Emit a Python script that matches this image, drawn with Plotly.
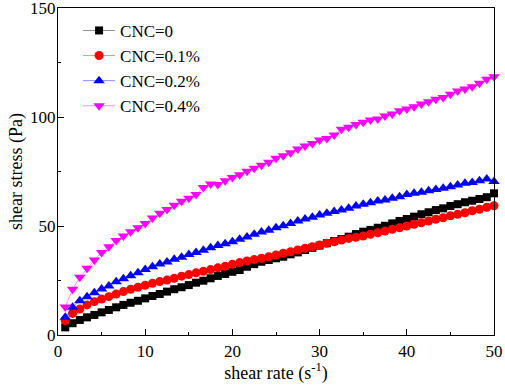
import plotly.graph_objects as go

shear_rate = [0.83, 1.67, 2.5, 3.33, 4.17, 5.0, 5.83, 6.67, 7.5, 8.33,
              9.17, 10.0, 10.83, 11.67, 12.5, 13.33, 14.17, 15.0, 15.83, 16.67,
              17.5, 18.33, 19.17, 20.0, 20.83, 21.67, 22.5, 23.33, 24.17, 25.0,
              25.83, 26.67, 27.5, 28.33, 29.17, 30.0, 30.83, 31.67, 32.5, 33.33,
              34.17, 35.0, 35.83, 36.67, 37.5, 38.33, 39.17, 40.0, 40.83, 41.67,
              42.5, 43.33, 44.17, 45.0, 45.83, 46.67, 47.5, 48.33, 49.17, 50.0]

cnc_0 = [3.5, 5.4, 6.9, 8.1, 9.2, 10.4, 11.5, 12.7, 13.8, 14.8,
         15.7, 16.8, 17.9, 18.8, 19.9, 21.0, 21.9, 22.9, 24.0, 24.9,
         26.0, 27.1, 28.0, 29.0, 29.8, 31.3, 32.5, 33.6, 34.4, 35.2,
         35.9, 37.0, 37.9, 39.0, 40.0, 41.0, 42.1, 43.1, 44.0, 45.1,
         46.3, 47.4, 48.2, 49.2, 50.1, 51.2, 52.3, 53.2, 54.3, 55.4,
         56.3, 57.3, 58.1, 59.2, 60.0, 60.9, 61.6, 62.4, 63.2, 65.0]

cnc_01 = [6.6, 9.9, 11.9, 13.8, 15.3, 16.5, 17.6, 18.8, 19.9, 21.0,
          21.9, 22.8, 23.7, 24.5, 25.2, 26.0, 27.0, 27.7, 28.5, 29.2,
          30.0, 30.8, 31.5, 32.5, 33.2, 34.0, 34.6, 35.2, 35.9, 36.7,
          37.5, 38.2, 39.0, 39.8, 40.5, 41.3, 42.1, 42.8, 43.6, 44.3,
          44.8, 45.4, 46.2, 46.9, 47.7, 48.5, 49.2, 50.0, 50.8, 51.5,
          52.3, 53.1, 53.8, 54.7, 55.4, 56.1, 57.0, 57.7, 58.6, 59.3]

cnc_02 = [8.1, 12.7, 15.7, 17.6, 19.4, 21.1, 22.5, 24.4, 25.8, 27.2,
          28.5, 30.0, 31.3, 32.6, 33.5, 34.7, 35.7, 36.9, 37.8, 38.9,
          40.0, 41.0, 41.9, 42.8, 43.9, 45.0, 46.2, 47.2, 48.0, 49.2,
          50.1, 51.2, 52.3, 53.2, 54.0, 55.0, 55.8, 56.6, 57.3, 58.1,
          59.2, 60.0, 60.7, 61.5, 61.9, 62.7, 63.4, 64.4, 65.0, 65.5,
          66.2, 66.8, 67.3, 68.0, 68.8, 69.6, 70.0, 70.8, 71.6, 70.4]

cnc_04 = [12.8, 21.0, 26.5, 30.6, 34.4, 37.9, 40.5, 43.3, 45.4, 47.4,
          49.2, 51.2, 53.7, 55.8, 57.6, 59.5, 61.3, 62.7, 64.4, 67.7,
          69.3, 69.0, 70.8, 72.3, 73.5, 75.1, 76.5, 77.9, 79.3, 81.1,
          82.2, 83.6, 85.3, 86.7, 87.9, 89.4, 90.1, 91.7, 94.4, 95.3,
          96.6, 97.6, 98.6, 99.1, 100.5, 101.4, 102.9, 103.7, 104.7, 106.0,
          107.0, 108.1, 109.0, 110.4, 111.9, 112.8, 113.9, 115.5, 117.3, 118.5]

series_names = ["CNC=0", "CNC=0.1%", "CNC=0.2%", "CNC=0.4%"]
series_values = [cnc_0, cnc_01, cnc_02, cnc_04]
colors = ["#000000", "#FF0000", "#0000FF", "#FF00FF"]
line_colors = ["rgba(0,0,0,0.45)", "rgba(255,0,0,0.45)", "rgba(0,0,255,0.45)", "rgba(255,0,255,0.45)"]
symbols = ["square", "circle", "triangle-up", "triangle-down"]
sizes = [8, 9, 10, 10]

x_ticks = [0, 10, 20, 30, 40, 50]
y_ticks = [0, 50, 100, 150]

FONT = "Liberation Serif, Times New Roman, serif"

fig = go.Figure()
for name, vals, c, lc, s, sz in zip(series_names, series_values, colors, line_colors, symbols, sizes):
    fig.add_trace(go.Scatter(
        x=shear_rate, y=vals, name=name, mode="lines+markers",
        line=dict(color=lc, width=1),
        marker=dict(symbol=s, color=c, size=sz, line=dict(width=0)),
        cliponaxis=False,
    ))

axis_common = dict(
    showline=True, linecolor="#000000", linewidth=1.2, mirror=True,
    showgrid=False, zeroline=False, automargin=False,
    ticks="inside", ticklen=6, tickwidth=1.2, tickcolor="#000000",
    ticklabeloverflow="allow",
    tickfont=dict(family=FONT, size=17, color="#000000"),
)

fig.update_layout(
    width=505, height=388,
    margin=dict(l=58, r=11, t=8, b=53),
    paper_bgcolor="white", plot_bgcolor="white",
    font=dict(family=FONT, color="#000000"),
    showlegend=True,
    legend=dict(x=0.046, y=0.985, xanchor="left", yanchor="top",
                bgcolor="rgba(0,0,0,0)", font=dict(family=FONT, size=17),
                tracegroupgap=0, itemwidth=32),
    xaxis=dict(range=[0, 50], tickvals=x_ticks,
               minor=dict(ticks="inside", ticklen=3, tickcolor="#000000", dtick=5, tick0=0),
               title=dict(text="shear rate (s<sup>-1</sup>)", font=dict(family=FONT, size=18), standoff=6),
               **axis_common),
    yaxis=dict(range=[0, 150], tickvals=y_ticks, ticklabelstandoff=-2,
               minor=dict(ticks="inside", ticklen=3, tickcolor="#000000", dtick=25, tick0=0),
               title=dict(text="shear stress (Pa)", font=dict(family=FONT, size=18), standoff=2),
               **axis_common),
)

fig.write_html("out.html", config={"displayModeBar": False},
               post_script="document.body.style.margin='0';document.body.style.overflow='hidden';")
